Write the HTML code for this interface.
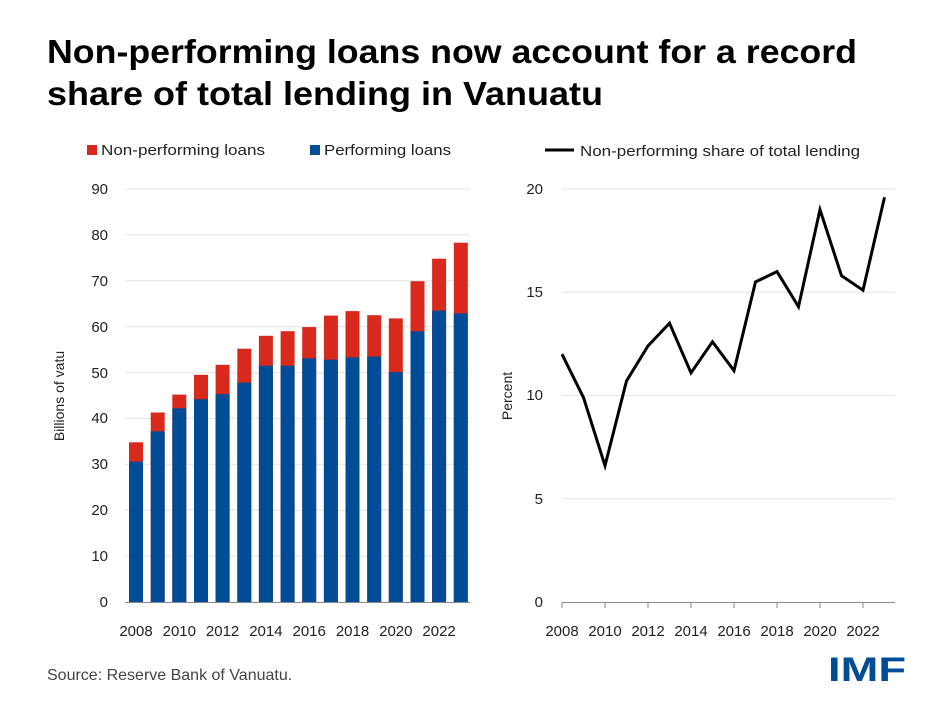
<!DOCTYPE html>
<html><head><meta charset="utf-8"><style>
body{margin:0;background:#fff}
svg{display:block;font-family:"Liberation Sans",sans-serif}
</style></head><body>
<svg width="950" height="713" viewBox="0 0 950 713">
<rect width="950" height="713" fill="#fff"/>
<text x="47" y="63" font-size="33" font-weight="bold" fill="#000" textLength="810" lengthAdjust="spacingAndGlyphs">Non-performing loans now account for a record</text>
<text x="47" y="105" font-size="33" font-weight="bold" fill="#000" textLength="556" lengthAdjust="spacingAndGlyphs">share of total lending in Vanuatu</text>

<!-- left legend -->
<rect x="87" y="145" width="10" height="10" fill="#d9291c"/>
<text x="101" y="155" font-size="15" fill="#222" textLength="164" lengthAdjust="spacingAndGlyphs">Non-performing loans</text>
<rect x="310" y="145" width="10" height="10" fill="#004c97"/>
<text x="324" y="155" font-size="15" fill="#222" textLength="127" lengthAdjust="spacingAndGlyphs">Performing loans</text>

<!-- left grid -->
<g stroke="#e4e4e4" stroke-width="1">
<line x1="125" x2="470" y1="189" y2="189"/><line x1="125" x2="470" y1="234.9" y2="234.9"/>
<line x1="125" x2="470" y1="280.8" y2="280.8"/><line x1="125" x2="470" y1="326.7" y2="326.7"/>
<line x1="125" x2="470" y1="372.6" y2="372.6"/><line x1="125" x2="470" y1="418.4" y2="418.4"/>
<line x1="125" x2="470" y1="464.3" y2="464.3"/><line x1="125" x2="470" y1="510.2" y2="510.2"/>
<line x1="125" x2="470" y1="556.1" y2="556.1"/>
</g>
<g font-size="15" fill="#222" text-anchor="end">
<text x="108" y="194">90</text><text x="108" y="240">80</text><text x="108" y="286">70</text>
<text x="108" y="332">60</text><text x="108" y="378">50</text><text x="108" y="423">40</text>
<text x="108" y="469">30</text><text x="108" y="515">20</text><text x="108" y="561">10</text>
<text x="108" y="607">0</text>
</g>
<text transform="translate(64,396) rotate(-90)" font-size="14" fill="#222" text-anchor="middle">Billions of vatu</text>

<g>
<!-- red totals -->
<g fill="#d9291c">
<rect x="129" y="442.3" width="14" height="160"/>
<rect x="150.7" y="412.5" width="14" height="190"/>
<rect x="172.3" y="394.6" width="14" height="208"/>
<rect x="194" y="374.8" width="14" height="228"/>
<rect x="215.6" y="364.8" width="14" height="238"/>
<rect x="237.3" y="348.7" width="14" height="254"/>
<rect x="258.9" y="335.8" width="14" height="267"/>
<rect x="280.6" y="331.2" width="14" height="271"/>
<rect x="302.2" y="327.1" width="14" height="275"/>
<rect x="323.9" y="315.6" width="14" height="287"/>
<rect x="345.5" y="311.1" width="14" height="291"/>
<rect x="367.2" y="315.2" width="14" height="287"/>
<rect x="388.8" y="318.4" width="14" height="284"/>
<rect x="410.5" y="281.2" width="14" height="321"/>
<rect x="432.1" y="258.7" width="14" height="344"/>
<rect x="453.8" y="242.7" width="14" height="360"/>
</g>
<g fill="#004c97">
<rect x="129" y="461.6" width="14" height="141"/>
<rect x="150.7" y="431.3" width="14" height="171"/>
<rect x="172.3" y="408.3" width="14" height="194"/>
<rect x="194" y="399.2" width="14" height="203"/>
<rect x="215.6" y="394.1" width="14" height="208"/>
<rect x="237.3" y="382.6" width="14" height="220"/>
<rect x="258.9" y="365.7" width="14" height="237"/>
<rect x="280.6" y="365.7" width="14" height="237"/>
<rect x="302.2" y="358.3" width="14" height="244"/>
<rect x="323.9" y="359.7" width="14" height="243"/>
<rect x="345.5" y="357.4" width="14" height="245"/>
<rect x="367.2" y="356.5" width="14" height="246"/>
<rect x="388.8" y="372.1" width="14" height="230"/>
<rect x="410.5" y="331.2" width="14" height="271"/>
<rect x="432.1" y="310.6" width="14" height="292"/>
<rect x="453.8" y="313.4" width="14" height="289"/>
</g>
</g>
<line x1="125" x2="470" y1="602.5" y2="602.5" stroke="#888" stroke-width="1"/>
<g font-size="15" fill="#222" text-anchor="middle">
<text x="136" y="636">2008</text><text x="179.3" y="636">2010</text><text x="222.6" y="636">2012</text>
<text x="265.9" y="636">2014</text><text x="309.2" y="636">2016</text><text x="352.5" y="636">2018</text>
<text x="395.8" y="636">2020</text><text x="439.1" y="636">2022</text>
</g>

<!-- right legend -->
<line x1="545" x2="574" y1="150" y2="150" stroke="#000" stroke-width="3"/>
<text x="580" y="156" font-size="15" fill="#222" textLength="280" lengthAdjust="spacingAndGlyphs">Non-performing share of total lending</text>

<g stroke="#e4e4e4" stroke-width="1">
<line x1="562" x2="895" y1="189" y2="189"/><line x1="562" x2="895" y1="292.3" y2="292.3"/>
<line x1="562" x2="895" y1="395.5" y2="395.5"/><line x1="562" x2="895" y1="498.8" y2="498.8"/>
</g>
<g font-size="15" fill="#222" text-anchor="end">
<text x="543" y="194">20</text><text x="543" y="297">15</text><text x="543" y="400">10</text>
<text x="543" y="504">5</text><text x="543" y="607">0</text>
</g>
<text transform="translate(512,396) rotate(-90)" font-size="14" fill="#222" text-anchor="middle">Percent</text>
<polyline fill="none" stroke="#000" stroke-width="3" stroke-linejoin="miter" points="562,354.2 583.5,397.6 605,465.7 626.5,381 648,345.9 669.5,323.2 691,372.8 712.5,341.8 734,370.7 755.5,281.9 777,271.6 798.5,306.7 820,209.7 841.5,275.7 863,290.2 884.5,197.3"/>
<g stroke="#888" stroke-width="1">
<line x1="562" x2="895" y1="602.5" y2="602.5"/>
<line x1="562" x2="562" y1="602" y2="608"/><line x1="605" x2="605" y1="602" y2="608"/>
<line x1="648" x2="648" y1="602" y2="608"/><line x1="691" x2="691" y1="602" y2="608"/>
<line x1="734" x2="734" y1="602" y2="608"/><line x1="777" x2="777" y1="602" y2="608"/>
<line x1="820" x2="820" y1="602" y2="608"/><line x1="863" x2="863" y1="602" y2="608"/>
</g>
<g font-size="15" fill="#222" text-anchor="middle">
<text x="562" y="636">2008</text><text x="605" y="636">2010</text><text x="648" y="636">2012</text>
<text x="691" y="636">2014</text><text x="734" y="636">2016</text><text x="777" y="636">2018</text>
<text x="820" y="636">2020</text><text x="863" y="636">2022</text>
</g>

<text x="47" y="680" font-size="16" fill="#444">Source: Reserve Bank of Vanuatu.</text>
<text x="828" y="681" font-size="34" font-weight="bold" fill="#004c97" textLength="78" lengthAdjust="spacingAndGlyphs">IMF</text>
</svg>
</body></html>
